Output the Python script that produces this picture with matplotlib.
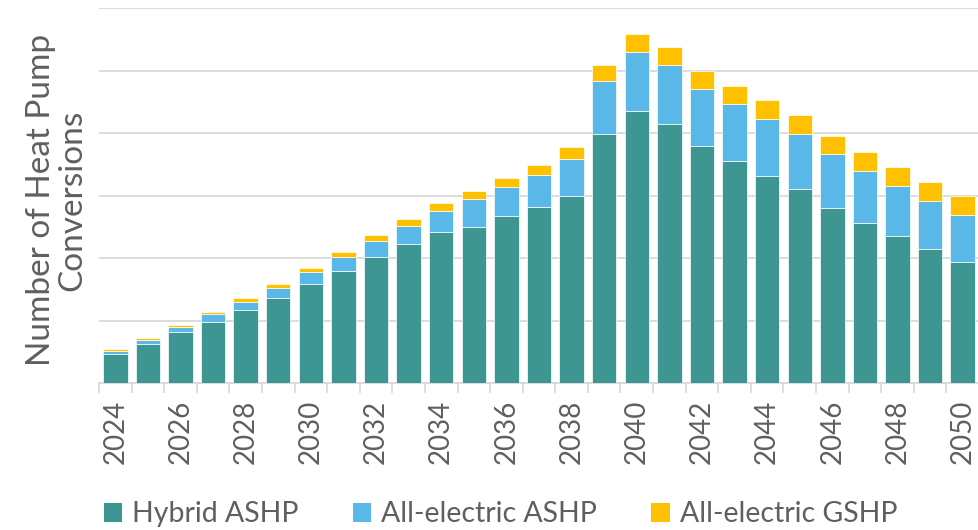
import matplotlib.pyplot as plt
import numpy as np

plt.rcParams['font.family'] = ['Lato', 'DejaVu Sans']

# Heat pump conversions per year (thousands), stacked by technology
years = list(range(2024, 2051))
hybrid_ashp = [47, 63, 81, 98, 117, 136, 158, 180, 202, 222, 241, 250, 268, 282, 300,
               399, 436, 415, 379, 356, 332, 310, 280, 257, 235, 214, 194]
electric_ashp = [5, 6, 8, 12, 13, 16, 19, 22, 25, 29, 34, 44, 46, 51, 59,
                 85, 94, 94, 92, 91, 90, 89, 86, 83, 80, 78, 75]
electric_gshp = [2, 3, 4, 4, 5.5, 6, 7.5, 8, 10, 11, 13, 13, 15, 16, 19,
                 25, 29.5, 29, 29, 29, 31, 30, 30, 30, 31, 30, 30]

GREEN = '#3E9692'
BLUE = '#5AB8E8'
YELLOW = '#FFC000'
GRID = '#D9D9D9'
TEXT = '#5F5F5F'

fig = plt.figure(figsize=(9.79, 5.3), dpi=100)
ax = fig.add_axes([99 / 979, 1 - 383 / 530, 880 / 979, (383 - 8.3) / 530])

x = np.arange(len(years))
h = np.array(hybrid_ashp)
a = np.array(electric_ashp)
g = np.array(electric_gshp)
w = 0.75
ax.bar(x, h, w, color=GREEN, edgecolor='#FFFFFF', linewidth=0.5, label='Hybrid ASHP', zorder=3)
ax.bar(x, a, w, bottom=h, color=BLUE, edgecolor='#FFFFFF', linewidth=0.5, label='All-electric ASHP', zorder=3)
ax.bar(x, g, w, bottom=h + a, color=YELLOW, edgecolor='#FFFFFF', linewidth=0.5, label='All-electric GSHP', zorder=3)

ax.set_xlim(-0.5, len(years) - 0.5)
ax.set_ylim(0, 600)
ax.set_yticks(np.arange(0, 601, 100))
ax.yaxis.grid(True, color=GRID, linewidth=1.3, zorder=0)
ax.tick_params(axis='y', length=0, labelleft=False)

ax.set_xticks(x[::2])
ax.set_xticklabels([str(y) for y in years[::2]], rotation=90, fontsize=20, color=TEXT)
ax.set_xticks(np.arange(-0.5, len(years), 1), minor=True)
ax.tick_params(axis='x', which='major', length=0, pad=12)
ax.tick_params(axis='x', which='minor', length=7, width=1.2, color=GRID)

for s in ['top', 'right', 'left']:
    ax.spines[s].set_visible(False)
ax.spines['bottom'].set_color(GRID)
ax.spines['bottom'].set_linewidth(1.3)

fig.text(0.058, 0.622, 'Number of Heat Pump\nConversions', rotation=90,
         ha='center', va='center', multialignment='center',
         fontsize=24, color=TEXT, linespacing=1.05)

leg = fig.legend(loc='center', bbox_to_anchor=(0.511, 0.03), ncol=3, frameon=False,
                 fontsize=20.5, labelcolor=TEXT, handlelength=0.65, handleheight=0.65,
                 handletextpad=0.35, columnspacing=1.9)
for p in leg.get_patches():
    p.set_edgecolor('none')

fig.savefig('out.png', dpi=100)
